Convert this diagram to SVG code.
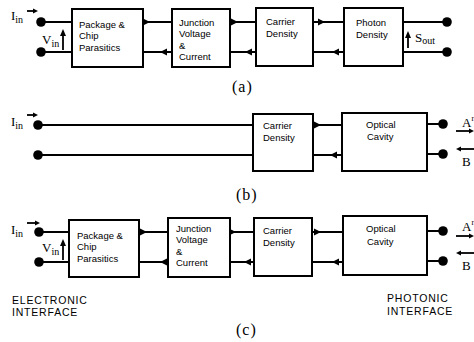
<svg xmlns="http://www.w3.org/2000/svg" xmlns:xlink="http://www.w3.org/1999/xlink" width="474" height="342" viewBox="0 0 474 342">
<style>
.box{fill:#fff;stroke:#000;stroke-width:2}
.ln{stroke:#000;stroke-width:1.8;fill:none}
.dot{fill:#000}
.lbl{font-family:"Liberation Sans",Arial,sans-serif;font-size:9.5px;fill:#000}
.sym{font-family:"Liberation Serif","Times New Roman",serif;font-size:13px;fill:#000}
.sub{font-size:10px}
.cap{font-family:"Liberation Serif","Times New Roman",serif;font-size:16px;letter-spacing:1px;fill:#000}
.ifc{font-family:"Liberation Sans",Arial,sans-serif;font-size:10.5px;letter-spacing:0.8px;fill:#000}
</style>
<defs>
<path id="ar" d="M0,0 L-7,-3.5 L-7,3.5 Z" fill="#000"/>
<path id="al" d="M0,0 L7,-3.5 L7,3.5 Z" fill="#000"/>
<path id="au" d="M0,0 L-3,7 L3,7 Z" fill="#000"/>
<path id="sr" d="M0,0 L-5,-2.5 L-5,2.5 Z" fill="#000"/>
<path id="sl" d="M0,0 L5,-2.5 L5,2.5 Z" fill="#000"/>
</defs>

<g id="connectors">
  <!-- panel a -->
  <path class="ln" d="M41,22H72 M143,22H172 M230,22H256 M313,22H344 M403,22H447"/>
  <path class="ln" d="M41,52H72 M143,52H172 M230,52H256 M313,52H344 M403,52H447"/>
  <use href="#ar" x="150" y="22"/><use href="#ar" x="238" y="22"/><use href="#ar" x="325" y="22"/>
  <use href="#al" x="160" y="52"/><use href="#al" x="245" y="52"/><use href="#al" x="332" y="52"/>
  <!-- panel b -->
  <path class="ln" d="M38,125H253 M313,125H342 M427,124H443"/>
  <path class="ln" d="M38,155H253 M313,155H342 M427,154H443"/>
  <use href="#ar" x="321" y="125"/>
  <use href="#al" x="330" y="155"/>
  <!-- panel c -->
  <path class="ln" d="M39,232H69 M139,232H168 M230,232H254 M312,232H343 M427,231H443"/>
  <path class="ln" d="M39,262H69 M139,262H168 M230,262H254 M312,262H343 M427,261H443"/>
  <use href="#ar" x="147" y="232"/><use href="#ar" x="236" y="232"/><use href="#ar" x="321" y="232"/>
  <use href="#al" x="160" y="262"/><use href="#al" x="244" y="262"/><use href="#al" x="332" y="262"/>
</g>

<!-- Panel (a) -->
<g id="a-input">
  <circle class="dot" cx="41" cy="22" r="4.8"/>
  <circle class="dot" cx="41" cy="52" r="4.8"/>
  <text class="sym" x="11" y="20">I<tspan class="sub" dy="3">in</tspan></text>
  <path class="ln" d="M27,11H34" stroke-width="1.3"/><use href="#sr" x="38" y="11"/>
  <text class="sym" x="42" y="44">V<tspan class="sub" dy="3">in</tspan></text>
  <path class="ln" d="M63,50V34" stroke-width="1.6"/><use href="#au" x="63" y="29"/>
</g>
<g id="a-package">
  <rect class="box" x="72" y="9" width="71" height="58"/>
  <text class="lbl" x="79" y="27.5">Package &amp;</text>
  <text class="lbl" x="79" y="39">Chip</text>
  <text class="lbl" x="79" y="50.5">Parasitics</text>
</g>
<g id="a-junction">
  <rect class="box" x="172" y="9" width="58" height="58"/>
  <text class="lbl" x="179" y="25.5">Junction</text>
  <text class="lbl" x="179" y="37">Voltage</text>
  <text class="lbl" x="179" y="48.5">&amp;</text>
  <text class="lbl" x="179" y="60">Current</text>
</g>
<g id="a-carrier">
  <rect class="box" x="256" y="8" width="57" height="58"/>
  <text class="lbl" x="266" y="25">Carrier</text>
  <text class="lbl" x="266" y="37">Density</text>
</g>
<g id="a-photon">
  <rect class="box" x="344" y="8" width="59" height="58"/>
  <text class="lbl" x="356" y="26">Photon</text>
  <text class="lbl" x="356" y="37.5">Density</text>
</g>
<g id="a-output">
  <circle class="dot" cx="447" cy="22" r="4.8"/>
  <circle class="dot" cx="447" cy="52" r="4.8"/>
  <path class="ln" d="M408,48V36" stroke-width="1.6"/><use href="#au" x="408" y="31"/>
  <text class="sym" x="415" y="42">S<tspan class="sub" dy="2">out</tspan></text>
</g>
<text class="cap" x="232" y="92">(a)</text>

<!-- Panel (b) -->
<g id="b-input">
  <circle class="dot" cx="38" cy="125" r="4.8"/>
  <circle class="dot" cx="38" cy="155" r="4.8"/>
  <text class="sym" x="11" y="126">I<tspan class="sub" dy="3">in</tspan></text>
  <path class="ln" d="M27,115H34" stroke-width="1.3"/><use href="#sr" x="38" y="115"/>
</g>
<g id="b-carrier">
  <rect class="box" x="253" y="114" width="60" height="57"/>
  <text class="lbl" x="263" y="129">Carrier</text>
  <text class="lbl" x="263" y="141">Density</text>
</g>
<g id="b-optical">
  <rect class="box" x="342" y="113" width="85" height="58"/>
  <text class="lbl" x="366" y="128">Optical</text>
  <text class="lbl" x="367" y="140">Cavity</text>
</g>
<g id="b-output">
  <circle class="dot" cx="443" cy="124" r="4.8"/>
  <circle class="dot" cx="443" cy="154" r="4.8"/>
  <text class="sym" x="462" y="127">A<tspan font-size="8" dy="-6">r</tspan></text>
  <path class="ln" d="M456,131H470" stroke-width="1.3"/><use href="#sr" x="474" y="131"/>
  <path class="ln" d="M460,149H474" stroke-width="1.3"/><use href="#sl" x="456" y="149"/>
  <text class="sym" x="462" y="166">B</text>
</g>
<text class="cap" x="236" y="200">(b)</text>

<!-- Panel (c) -->
<g id="c-input">
  <circle class="dot" cx="39" cy="232" r="4.8"/>
  <circle class="dot" cx="39" cy="262" r="4.8"/>
  <text class="sym" x="11" y="234">I<tspan class="sub" dy="3">in</tspan></text>
  <path class="ln" d="M27,223H36" stroke-width="1.3"/><use href="#sr" x="40" y="223"/>
  <text class="sym" x="42" y="252">V<tspan class="sub" dy="3">in</tspan></text>
  <path class="ln" d="M63,260V244" stroke-width="1.6"/><use href="#au" x="63" y="239"/>
</g>
<g id="c-package">
  <rect class="box" x="69" y="220" width="70" height="57"/>
  <text class="lbl" x="77" y="238.5">Package &amp;</text>
  <text class="lbl" x="77" y="250">Chip</text>
  <text class="lbl" x="77" y="261.5">Parasitics</text>
</g>
<g id="c-junction">
  <rect class="box" x="168" y="218" width="62" height="59"/>
  <text class="lbl" x="176" y="231.5">Junction</text>
  <text class="lbl" x="176" y="243">Voltage</text>
  <text class="lbl" x="176" y="255">&amp;</text>
  <text class="lbl" x="176" y="266">Current</text>
</g>
<g id="c-carrier">
  <rect class="box" x="254" y="218" width="58" height="58"/>
  <text class="lbl" x="263" y="234">Carrier</text>
  <text class="lbl" x="263" y="246">Density</text>
</g>
<g id="c-optical">
  <rect class="box" x="343" y="216" width="84" height="59"/>
  <text class="lbl" x="366" y="232">Optical</text>
  <text class="lbl" x="367" y="245">Cavity</text>
</g>
<g id="c-output">
  <circle class="dot" cx="443" cy="231" r="4.8"/>
  <circle class="dot" cx="443" cy="261" r="4.8"/>
  <text class="sym" x="462" y="231">A<tspan font-size="8" dy="-6">r</tspan></text>
  <path class="ln" d="M456,236H470" stroke-width="1.3"/><use href="#sr" x="474" y="236"/>
  <path class="ln" d="M460,253H474" stroke-width="1.3"/><use href="#sl" x="456" y="253"/>
  <text class="sym" x="462" y="270">B</text>
</g>
<g id="electronic-interface">
  <text class="ifc" x="12" y="304">ELECTRONIC</text>
  <text class="ifc" x="12" y="316">INTERFACE</text>
</g>
<g id="photonic-interface">
  <text class="ifc" x="387" y="302">PHOTONIC</text>
  <text class="ifc" x="387" y="315">INTERFACE</text>
</g>
<text class="cap" x="236" y="335">(c)</text>
</svg>
